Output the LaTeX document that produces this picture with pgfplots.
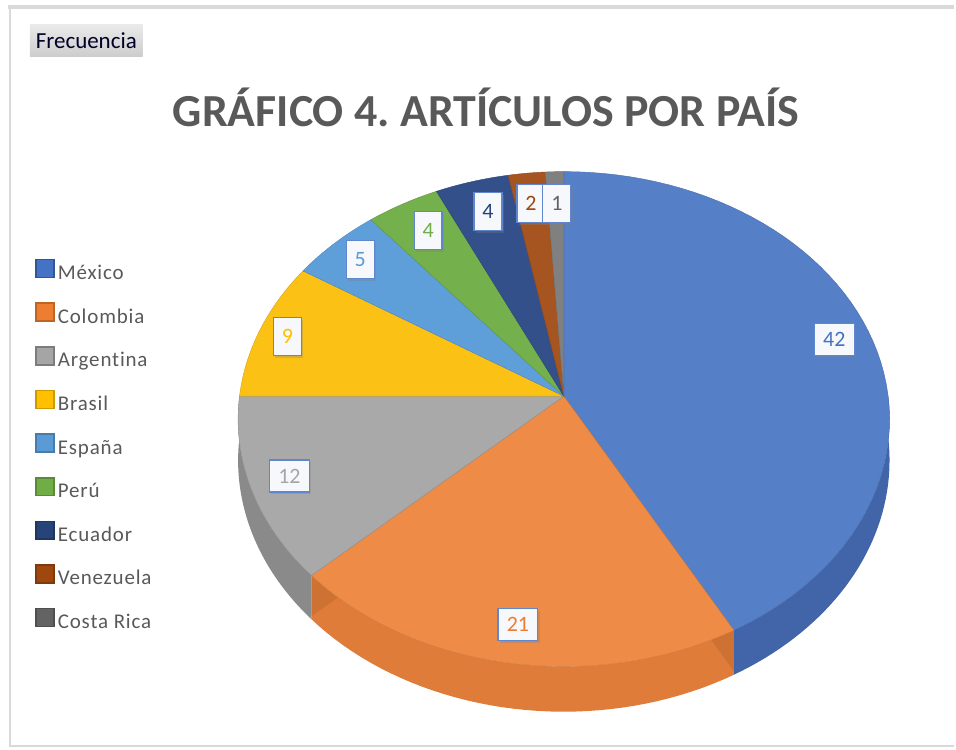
\documentclass[border=0pt]{standalone}
\usepackage{fontspec}
\setmainfont{Carlito}
\usepackage{pgfplots}
\pgfplotsset{compat=1.18}
\usepgfplotslibrary{fillbetween}
\usetikzlibrary{shadows}
\frenchspacing

% top-face colours
\definecolor{cMex}{HTML}{5580C8}
\definecolor{cCol}{HTML}{EE8B47}
\definecolor{cArg}{HTML}{A9A9A9}
\definecolor{cBra}{HTML}{FCC115}
\definecolor{cEsp}{HTML}{5E9FDA}
\definecolor{cPer}{HTML}{74B04C}
\definecolor{cEcu}{HTML}{33508A}
\definecolor{cVen}{HTML}{A65420}
\definecolor{cCos}{HTML}{808080}
% side colours
\definecolor{sMex}{HTML}{4165A8}
\definecolor{sCol}{HTML}{E07C39}
\definecolor{sArg}{HTML}{8A8A8A}
% label colours
\definecolor{lMex}{HTML}{4472C4}
\definecolor{lCol}{HTML}{ED7D31}
\definecolor{lArg}{HTML}{A5A5A5}
\definecolor{lBra}{HTML}{FFC000}
\definecolor{lEsp}{HTML}{5B9BD5}
\definecolor{lPer}{HTML}{70AD47}
\definecolor{lEcu}{HTML}{264478}
\definecolor{lVen}{HTML}{9E480E}
\definecolor{lCos}{HTML}{636363}
\definecolor{txt}{HTML}{595959}
\definecolor{brd}{HTML}{D9D9D9}
\definecolor{btnTop}{HTML}{EAEAEA}
\definecolor{btnBot}{HTML}{CDCDCD}

% #1 = cumulative frequency before the slice, #2 = frequency, #3 = colour
\newcommand{\topslice}[3]{%
  \addplot[forget plot, fill=#3, draw=#3!85!black, line width=0.2pt,
    domain={90-3.6*(#1+#2)}:{90-3.6*#1}, samples=60, variable=\t]
    ({px(\t)},{py(\t)}) -- (axis cs:565,397) -- cycle;}
% side wall of the front part: #1..#2 angles, #3 colour, #4 name
\newcommand{\sideseg}[4]{%
  \addplot[forget plot, draw=none, name path=T#4, domain=#1:#2, samples=40, variable=\t]
    ({px(\t)},{py(\t)});
  \addplot[forget plot, draw=none, name path=B#4, domain=#1:#2, samples=40, variable=\t]
    ({px(\t)},{pb(\t)});
  \addplot[forget plot, fill=#3, draw=none] fill between[of=T#4 and B#4];}
% radial inner wall seen through the top: #1 angle, #2 colour, #3 opacity, #4 name
\newcommand{\wall}[4]{%
  \addplot[forget plot, draw=none, name path=WA#4, domain=0:1, samples=2, variable=\s]
    ({565+325*\s*cos(#1)/(1+0.0927*\s*sin(#1))},{397-245.9*\s*sin(#1)/(1+0.0927*\s*sin(#1))});
  \addplot[forget plot, draw=none, name path=WB#4, domain=0:1, samples=2, variable=\s]
    ({565+325*\s*cos(#1)/(1+0.0927*\s*sin(#1))},{438-245.9*\s*sin(#1)/(1+0.0927*\s*sin(#1))});
  \addplot[forget plot, fill=#2, fill opacity=#3, draw=none] fill between[of=WA#4 and WB#4];}

\begin{document}
\begin{tikzpicture}
\begin{axis}[
  hide axis, scale only axis, width=478pt, height=375.5pt,
  xmin=0, xmax=956, ymin=0, ymax=751, y dir=reverse, clip=false,
  declare function={
    px(\a)=565+325*cos(\a)/(1+0.0927*sin(\a));
    py(\a)=397-245.9*sin(\a)/(1+0.0927*sin(\a));
    pb(\a)=397+41/(1+0.0927*sin(\a))-245.9*sin(\a)/(1+0.0927*sin(\a));
  },
  legend image code/.code={\filldraw[line width=0.8pt,#1] (0pt,-1.5pt) rectangle (9pt,7.5pt);},
  legend cell align=left,
  legend style={at={(axis cs:35,259)}, anchor=north west, draw=none, fill=none,
    inner sep=0pt, row sep=9.45pt,
    font=\fontsize{10.5}{12}\selectfont\addfontfeature{LetterSpace=4,Ligatures=NoCommon}\color{txt},
    nodes={inner sep=0pt, text height=7pt, text depth=2pt},
    /tikz/every odd column/.append style={column sep=1.5pt}},
]
\path (axis cs:0,0) rectangle (axis cs:956,751);

% side walls (front half)
\sideseg{-61.2}{0}{sMex}{m}
\sideseg{-136.8}{-61.2}{sCol}{c}
\sideseg{-180}{-136.8}{sArg}{a}

% top faces: País / Frecuencia
\topslice{0}{42}{cMex}   % México
\topslice{42}{21}{cCol}  % Colombia
\topslice{63}{12}{cArg}  % Argentina
\topslice{75}{9}{cBra}   % Brasil
\topslice{84}{5}{cEsp}   % España
\topslice{89}{4}{cPer}   % Perú
\topslice{93}{4}{cEcu}   % Ecuador
\topslice{97}{2}{cVen}   % Venezuela
\topslice{99}{1}{cCos}   % Costa Rica

% inner walls
\wall{-61.2}{black}{0.08}{1}
\wall{-136.8}{black}{0.08}{2}
\wall{180}{lBra}{0.28}{3}
\wall{147.6}{black}{0.07}{4}
\wall{129.6}{black}{0.07}{5}
\wall{115.2}{black}{0.07}{6}
\wall{100.8}{black}{0.07}{7}

% legend
\addlegendimage{fill=lMex, draw=lMex!75!black}\addlegendentry{México}
\addlegendimage{fill=lCol, draw=lCol!80!black}\addlegendentry{Colombia}
\addlegendimage{fill=lArg, draw=lArg!75!black}\addlegendentry{Argentina}
\addlegendimage{fill=lBra, draw=lBra!80!black}\addlegendentry{Brasil}
\addlegendimage{fill=lEsp, draw=lEsp!80!black}\addlegendentry{España}
\addlegendimage{fill=lPer, draw=lPer!80!black}\addlegendentry{Perú}
\addlegendimage{fill=lEcu, draw=lEcu!80!black}\addlegendentry{Ecuador}
\addlegendimage{fill=lVen, draw=lVen!80!black}\addlegendentry{Venezuela}
\addlegendimage{fill=lCos, draw=lCos!80!black}\addlegendentry{Costa Rica}

% data labels
\tikzset{lbl/.style={fill=white!95!lMex, draw=lMex!85!white, line width=0.6pt,
  font=\fontsize{11}{13}\selectfont, inner sep=0pt,
  drop shadow={shadow xshift=1pt, shadow yshift=-1.2pt, opacity=0.3}},
  two/.style={minimum width=20pt, minimum height=16pt},
  one/.style={minimum width=14pt, minimum height=19pt}}
\node[lbl, two, text=lMex] at (axis cs:836,340) {42};
\node[lbl, two, text=lCol] at (axis cs:519,626) {21};
\node[lbl, two, text=lArg] at (axis cs:290,477) {12};
\node[lbl, one, text=lBra] at (axis cs:288,337) {9};
\node[lbl, one, text=lEsp] at (axis cs:361,260) {5};
\node[lbl, one, text=lPer] at (axis cs:429,231) {4};
\node[lbl, one, text=lEcu] at (axis cs:489,212) {4};
\node[lbl, one, text=lVen] at (axis cs:532,204) {2};
\node[lbl, one, text=lCos] at (axis cs:558,204) {1};

% title
\node[text=txt, font=\fontsize{23}{27}\selectfont\bfseries]
  at (axis cs:487,108) {GRÁFICO 4. ARTÍCULOS POR PAÍS};
% field button
\node[top color=btnTop, bottom color=btnBot, minimum width=56.5pt, minimum height=16pt,
  inner sep=0pt, text=black!85!blue, font=\fontsize{11.5}{13}\selectfont]
  at (axis cs:86.5,40.5) {Frecuencia};
% chart border
\draw[brd, line width=2pt] (axis cs:8,7.5) -- (axis cs:956,7.5);
\draw[brd, line width=1pt] (axis cs:10,7.5) -- (axis cs:10,748) -- (axis cs:956,748);
\end{axis}
\end{tikzpicture}
\end{document}
